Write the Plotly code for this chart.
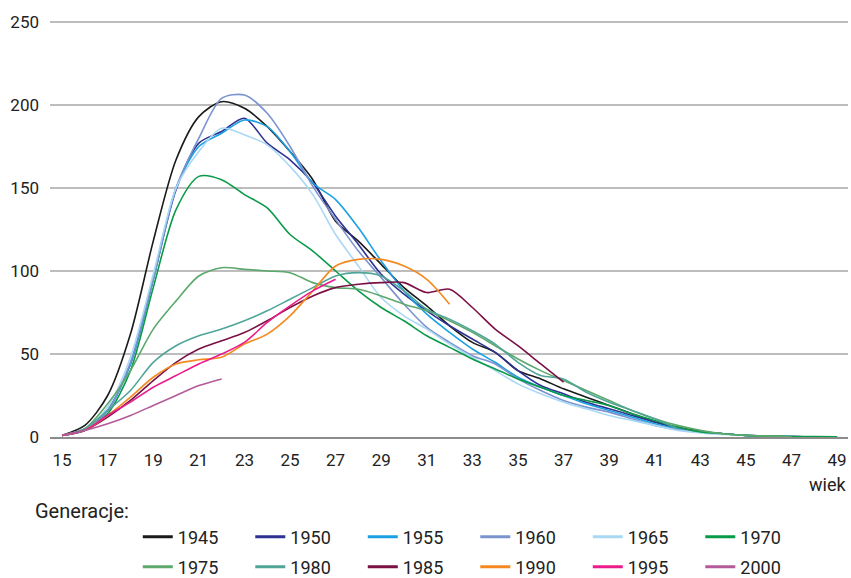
import plotly.graph_objects as go

ages = list(range(15, 50))

gen_labels = ["1945", "1950", "1955", "1960", "1965", "1970",
              "1975", "1980", "1985", "1990", "1995", "2000"]

v1945 = [1, 7, 25, 62, 118, 167, 193, 202, 198, 187, 172, 155, 130, 118, 104, 90, 79, 67, 57, 51,
         40, 35, 29, 24, 19, 14, 9, 6, 3.5, 2, 1, 0.5, 0.3, 0.1, 0.05]
v1950 = [1, 4, 16, 44, 95, 149, 177, 184, 192, 177, 167, 153, 133, 116, 98, 86, 76, 67, 59, 51,
         40, 31, 26, 21, 17, 13, 9, 5, 3, 2, 1, 0.5, 0.2, 0.1, 0.05]
v1955 = [1, 4, 16, 44, 95, 150, 175, 183, 191, 187, 172, 153, 143, 126, 106, 88, 74, 63, 53, 45,
         36, 30, 25, 20, 16, 12, 8, 5, 3, 2, 1, 0.5, 0.2, 0.1, 0.05]
v1960 = [1, 4, 16, 45, 95, 150, 180, 204, 206, 195, 175, 151, 131, 112, 96, 80, 66, 57, 49, 44,
         35, 28, 22, 18, 15, 11, 7, 4.5, 3, 2, 1, 0.5, 0.2, 0.1, 0.05]
v1965 = [1, 5, 18, 48, 98, 150, 172, 186, 182, 176, 163, 146, 122, 103, 84, 73, 65, 56, 48, 40,
         32, 26, 21, 17, 13, 10, 7, 4, 2.5, 1.5, 1, 0.5, 0.2, 0.1, 0.05]
v1970 = [1, 4, 14, 40, 90, 137, 157, 155, 146, 138, 122, 112, 100, 88, 78, 70, 61, 54, 47, 41,
         35, 30, 25, 22, 19, 14, 10, 6, 3, 2, 1, 0.5, 0.3, 0.2, 0.1]
v1975 = [1, 5, 20, 40, 65, 82, 97, 102, 101, 100, 99, 93, 90, 89, 85, 80, 76, 70, 63, 55,
         47, 40, 34, 28, 22, 16, 11, 7, 4, 2, 1, 0.5, 0.2]
v1980 = [1, 5, 16, 28, 45, 55, 61, 65, 70, 76, 83, 90, 97, 99, 97, 88, 77, 71, 64, 56,
         45, 37, 35, 27, 21, 16, 11, 5]
v1985 = [1, 4, 12, 22, 34, 45, 53, 58, 63, 70, 78, 85, 90, 92, 93, 93, 87, 89, 78, 65,
         55, 44, 33]
v1990 = [1, 4, 13, 24, 36, 44, 46.5, 48, 56, 62, 73, 88, 103, 107, 107, 103, 95, 80]
v1995 = [1, 4, 13, 21, 30, 37, 44, 50, 57, 69, 79, 88, 95]
v2000 = [1, 4, 8, 13, 19, 25, 31, 35]

series = [v1945, v1950, v1955, v1960, v1965, v1970, v1975, v1980, v1985, v1990, v1995, v2000]
colors = ["#1a1a1a", "#2e3192", "#1ba1e2", "#7b94cf", "#a9d8f5", "#0a9a48",
          "#5da86c", "#4fa597", "#7a1145", "#f5891f", "#ec1b8c", "#b35a98"]

x_ticks = list(range(15, 50, 2))
y_ticks = [0, 50, 100, 150, 200, 250]

FONT = "Roboto, 'Open Sans', sans-serif"

fig = go.Figure()
for lab, vals, col in zip(gen_labels, series, colors):
    fig.add_trace(go.Scatter(
        x=ages[:len(vals)], y=vals, mode="lines", name=lab,
        line=dict(color=col, width=1.6, shape="spline", smoothing=0.8),
        showlegend=False, hoverinfo="skip"))

# legend entries (thicker sample lines), split in two rows
for i, (lab, col) in enumerate(zip(gen_labels, colors)):
    fig.add_trace(go.Scatter(
        x=[None], y=[None], mode="lines", name=lab,
        line=dict(color=col, width=3),
        legend="legend" if i < 6 else "legend2"))

PLOT_H = 418
legend_common = dict(orientation="h", xanchor="left", yanchor="middle",
                     entrywidth=67.5, entrywidthmode="pixels",
                     font=dict(family=FONT, size=18, color="#222"),
                     bgcolor="rgba(0,0,0,0)", borderwidth=0, itemclick=False,
                     tracegroupgap=0)

fig.update_layout(
    width=851, height=578,
    margin=dict(l=50, r=3, t=19, b=141, autoexpand=False),
    paper_bgcolor="white", plot_bgcolor="white",
    font=dict(family=FONT, size=17, color="#222"),
    legend=dict(x=0.110, y=-100 / PLOT_H, **legend_common),
    legend2=dict(x=0.110, y=-130 / PLOT_H, **legend_common),
    xaxis=dict(range=[14.47, 49.48], tickvals=x_ticks, ticktext=[str(t) for t in x_ticks],
               showgrid=False, zeroline=False, showline=True, linecolor="#8c8c8c", linewidth=2,
               ticks="", ticklabelstandoff=7, tickfont=dict(size=17), automargin=False),
    yaxis=dict(range=[0, 251.8], tickvals=y_ticks, showgrid=True, gridcolor="#bdbdbd", gridwidth=1.5,
               zeroline=False, showline=False, ticks="", ticklabelstandoff=10,
               tickfont=dict(size=17), automargin=False),
    annotations=[
        dict(text="wiek", x=1.0, y=-47 / PLOT_H, xref="paper", yref="paper", xanchor="right",
             yanchor="middle", showarrow=False, font=dict(family=FONT, size=18, color="#222")),
        dict(text="Generacje:", x=-0.0213, y=-74 / PLOT_H, xref="paper", yref="paper", xanchor="left",
             yanchor="middle", showarrow=False, font=dict(family=FONT, size=20, color="#222")),
    ],
)

fig.write_html("out.html", config={"displayModeBar": False},
               post_script="document.body.style.margin='0px';document.body.style.overflow='hidden';")
